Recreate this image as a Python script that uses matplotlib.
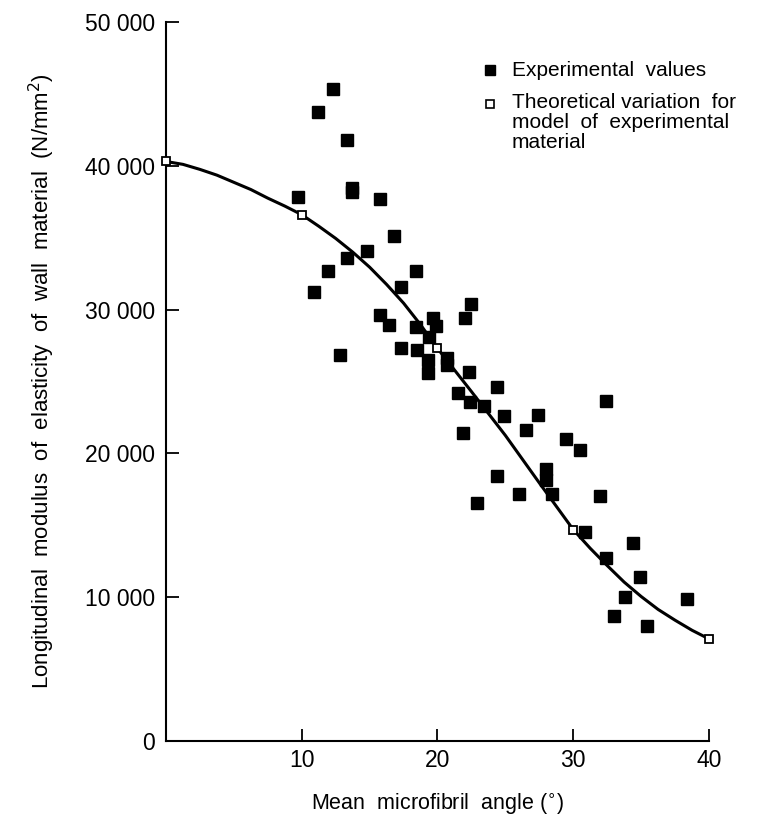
import numpy as np
import matplotlib.pyplot as plt
from matplotlib.ticker import FuncFormatter

plt.rcParams['font.family'] = ['Liberation Sans', 'DejaVu Sans']

# experimental values: microfibril angle (deg), modulus (N/mm2)
exp_angle = [12.3, 11.2, 13.3, 13.7, 13.7, 9.7, 15.8, 16.8, 14.8, 13.3,
             11.9, 18.4, 17.3, 10.9, 22.5, 22.0, 15.8, 16.4, 19.7, 19.9,
             18.4, 19.4, 17.3, 18.5, 12.8, 19.3, 19.3, 20.7, 20.7, 22.3,
             24.4, 21.5, 22.4, 23.4, 24.9, 27.4, 26.5, 21.9, 24.4, 26.0,
             22.9, 32.4, 29.5, 30.5, 28.0, 28.0, 28.4, 32.0, 30.9, 34.4,
             32.4, 34.9, 33.8, 38.4, 33.0, 35.4]
exp_modulus = [45340, 43740, 41790, 38480, 38160, 37850, 37670, 35110, 34090, 33560,
               32650, 32650, 31600, 31210, 30420, 29410, 29600, 28950, 29410, 28840,
               28790, 28090, 27350, 27210, 26810, 26510, 25580, 26650, 26120, 25650,
               24650, 24210, 23580, 23310, 22580, 22680, 21650, 21420, 18400, 17210,
               16580, 23670, 21000, 20240, 18910, 18140, 17210, 17070, 14520, 13770,
               12730, 11400, 10030, 9850, 8700, 8010]

# theoretical model points
theo_angle = [0, 10, 20, 30, 40]
theo_modulus = [40300, 36600, 27300, 14700, 7100]

# smooth theoretical curve
curve_angle = [0, 1.25, 2.5, 3.75, 5, 6.25, 7.5, 8.75, 10, 11.25, 12.5, 13.75, 15,
               16.25, 17.5, 18.75, 20, 22.5, 25, 27.5, 30, 31.25, 32.5, 33.75, 35,
               36.25, 37.5, 38.75, 40]
curve_modulus = [40300, 40100, 39750, 39350, 38850, 38350, 37750, 37200, 36600,
                 35800, 34950, 34000, 32950, 31750, 30450, 28950, 27300, 24300,
                 21250, 17950, 14700, 13400, 12200, 11050, 10050, 9150, 8400,
                 7700, 7100]

fig = plt.figure(figsize=(7.7, 8.19), dpi=100)
ax = fig.add_axes([166/770, 1 - 741/819, (709 - 166)/770, (741 - 22)/819])

ax.plot(curve_angle, curve_modulus, color='black', lw=2.2, zorder=2, clip_on=False,
        solid_joinstyle='round')
ax.plot(exp_angle, exp_modulus, ls='none', marker='s', ms=8.5, color='black', zorder=3)
ax.plot(theo_angle, theo_modulus, ls='none', marker='s', ms=6, mfc='white', mec='black',
        mew=1.3, zorder=4, clip_on=False)

ax.set_xlim(0, 40)
ax.set_ylim(0, 50000)
ax.set_xticks([10, 20, 30, 40])
ax.set_yticks([0, 10000, 20000, 30000, 40000, 50000])
ax.yaxis.set_major_formatter(FuncFormatter(lambda v, p: f'{int(v):,}'.replace(',', ' ')))

for s in ['top', 'right']:
    ax.spines[s].set_visible(False)
for s in ['left', 'bottom']:
    ax.spines[s].set_linewidth(1.5)

ax.tick_params(axis='x', direction='in', length=9, width=1.3, labelsize=16.5, pad=6)
ax.tick_params(axis='y', direction='in', length=9, width=1.3, labelsize=16.5, pad=8)

ax.set_xlabel('Mean  microfibril  angle ($^{\\circ}$)', fontsize=15.5, labelpad=14)
ax.set_ylabel('Longitudinal  modulus  of  elasticity  of  wall  material  (N/mm$^2$)',
              fontsize=16, labelpad=20)

# legend drawn by hand to match the original layout
ax.plot([490/770], [1 - 70/819], transform=fig.transFigure, marker='s', ms=7,
        color='black', clip_on=False)
ax.plot([490/770], [1 - 104/819], transform=fig.transFigure, marker='s', ms=5.5,
        mfc='white', mec='black', mew=1.2, clip_on=False)
fig.text(512/770, 1 - 70/819, 'Experimental  values', fontsize=15, va='center')
fig.text(512/770, 1 - 93/819, 'Theoretical variation  for\nmodel  of  experimental\nmaterial',
         fontsize=15, va='top', linespacing=1.05)

fig.savefig('out.png', dpi=100)
